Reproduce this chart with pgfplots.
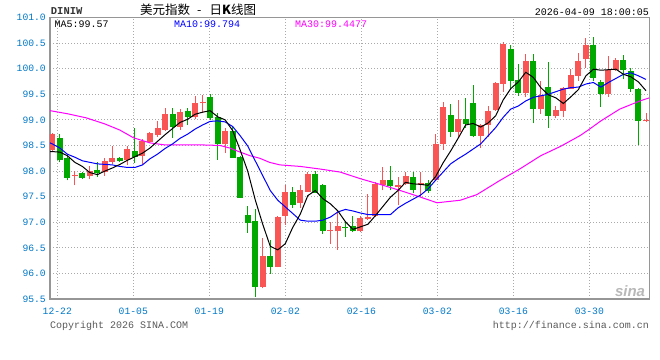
\documentclass[border=0pt]{standalone}
\usepackage{pgfplots}
\pgfplotsset{compat=1.18}
\usepackage{pgfplotstable}
\usepackage{fontspec}
\setmonofont{Liberation Mono}
\newfontfamily\cjk{Noto Sans CJK SC}
\newfontfamily\lsans{Liberation Sans}
\definecolor{upc}{RGB}{250,85,85}
\definecolor{dnc}{RGB}{0,168,0}
\definecolor{tickc}{RGB}{0,120,200}
\definecolor{gridc}{RGB}{170,170,170}
\definecolor{framec}{RGB}{150,150,150}
\definecolor{ma10c}{RGB}{0,0,255}
\definecolor{ma30c}{RGB}{255,0,255}

% rising candles (close > open)
\pgfplotstableread{
i O H L C
0 98.41 98.75 98.38 98.72
3 97.91 98.01 97.72 97.93
5 97.91 98.10 97.84 98.01
7 97.99 98.25 97.91 98.20
8 98.18 98.48 98.13 98.26
10 98.21 98.48 98.11 98.44
12 98.29 98.62 98.13 98.58
13 98.57 98.76 98.55 98.74
14 98.71 98.97 98.67 98.85
15 98.81 99.24 98.78 99.12
17 98.87 99.22 98.81 99.16
19 99.05 99.47 99.01 99.33
20 99.32 99.48 99.13 99.35
23 98.52 98.85 98.35 98.78
28 95.73 96.70 95.71 96.34
30 96.13 97.12 96.12 97.11
31 97.12 97.72 96.95 97.60
33 97.37 97.73 97.28 97.62
34 97.60 97.99 97.59 97.95
37 96.83 97.01 96.57 96.85
38 96.82 97.22 96.46 96.92
41 96.82 97.12 96.80 97.08
42 97.06 97.55 97.04 97.10
43 97.12 97.78 97.10 97.74
44 97.72 98.08 97.62 97.82
46 97.68 97.89 97.33 97.72
47 97.75 97.98 97.73 97.90
49 97.72 97.98 97.49 97.77
51 97.82 98.72 97.80 98.53
52 98.52 99.35 98.41 99.25
54 98.77 99.39 98.64 99.02
57 98.69 98.92 98.46 98.90
58 98.89 99.27 98.66 99.18
59 99.19 99.74 99.18 99.72
60 99.71 100.52 99.55 100.49
63 99.53 100.29 99.44 100.15
65 99.21 99.76 99.12 99.49
67 99.08 99.27 99.03 99.20
68 99.18 99.64 99.05 99.62
69 99.61 99.99 99.60 99.88
70 99.86 100.30 99.76 100.15
71 100.19 100.60 100.02 100.47
74 99.51 100.25 99.45 99.97
75 99.97 100.21 99.96 100.17
79 98.97 99.13 98.95 98.99
}\upc

% falling candles (close < open)
\pgfplotstableread{
i O H L C
1 98.64 98.72 98.17 98.22
2 98.26 98.30 97.82 97.87
4 97.96 97.99 97.84 97.87
6 98.03 98.17 97.88 97.97
9 98.26 98.28 98.18 98.20
11 98.40 98.85 98.15 98.28
16 99.12 99.24 98.65 98.87
18 99.18 99.24 98.90 99.05
21 99.44 99.51 99.00 99.03
22 99.05 99.14 98.22 98.52
24 98.79 98.88 98.26 98.26
25 98.28 98.30 97.47 97.47
26 97.14 97.31 96.79 96.98
27 97.02 97.26 95.54 95.73
29 96.34 96.65 95.99 96.13
32 97.60 97.68 97.28 97.33
35 97.95 98.01 97.57 97.58
36 97.72 97.74 96.77 96.82
39 96.91 97.02 96.71 96.89
40 96.92 97.13 96.80 96.82
45 97.82 98.10 97.62 97.70
48 97.88 97.99 97.57 97.62
50 97.77 97.83 97.58 97.61
53 99.09 99.31 98.67 98.77
55 99.02 99.42 98.85 98.92
56 99.33 99.68 98.66 98.68
61 100.39 100.46 99.63 99.76
62 99.78 100.10 99.47 99.53
64 100.15 100.29 98.93 99.21
66 99.64 100.14 98.85 99.08
72 100.47 100.62 99.76 99.82
73 99.74 99.78 99.25 99.51
76 100.16 100.27 99.79 99.97
77 99.95 100.02 99.55 99.60
78 99.60 99.62 98.51 98.97
}\dnc

\begin{document}
\begin{tikzpicture}
\path[use as bounding box] (0,0) rectangle (660bp,360bp);
\begin{axis}[
  at={(50bp,61bp)}, anchor=south west,
  scale only axis, width=599.3bp, height=281.5bp,
  xmin=-0.306, xmax=79.44, ymin=95.5, ymax=101,
  axis line style={draw=framec, line width=1.5bp},
  ytick={95.5,96,96.5,97,97.5,98,98.5,99,99.5,100,100.5,101},
  yticklabels={95.5,96.0,96.5,97.0,97.5,98.0,98.5,99.0,99.5,100.0,100.5,101.0},
  xtick={0.665,10.778,20.891,31.004,41.117,51.230,61.343,71.456},
  xticklabels={12-22,01-05,01-19,02-02,02-16,03-02,03-16,03-30},
  grid=major,
  major grid style={draw=gridc, line width=1bp, dash pattern=on 1bp off 2bp},
  major tick length=0pt,
  tick label style={font=\ttfamily\fontsize{9.7bp}{10bp}\selectfont, text=tickc},
  xticklabel style={anchor=base, yshift=-15.5bp, inner sep=0pt},
  yticklabel style={anchor=east, inner sep=0pt, xshift=-4bp},
  axis on top=false,
]
% wicks
\addplot[upc, line width=1bp, mark=none, quiver={u=0, v=\thisrow{H}-\thisrow{L}}] table[x=i, y=L] {\upc};
\addplot[dnc, line width=1bp, mark=none, quiver={u=0, v=\thisrow{H}-\thisrow{L}}] table[x=i, y=L] {\dnc};
% bodies
\addplot[upc, line width=6bp, mark=none, quiver={u=0, v=\thisrow{C}-\thisrow{O}}] table[x=i, y=O] {\upc};
\addplot[dnc, line width=6bp, mark=none, quiver={u=0, v=\thisrow{C}-\thisrow{O}}] table[x=i, y=O] {\dnc};
% MA30
\addplot[ma30c, line width=1bp, mark=none] coordinates {
(-0.3,99.18) (2,99.12) (4.5,99.04) (7,98.92) (9,98.80) (10.8,98.65) (13,98.55) (15,98.51)
(18,98.51) (20,98.51) (22.3,98.50) (23.6,98.45) (25,98.37) (26.3,98.30) (27.6,98.25)
(28.9,98.17) (30.3,98.12) (33,98.09) (35.6,98.04) (38.3,97.98) (41,97.85) (43.6,97.74)
(46.3,97.62) (49,97.49) (51.2,97.38) (54.3,97.43) (56.5,97.54) (59.6,97.82) (62.2,98.04)
(65,98.30) (67.6,98.48) (70.2,98.69) (71.3,98.80) (73,98.98) (75.5,99.21) (78.2,99.37) (79.44,99.43)
};
% MA10
\addplot[ma10c, line width=1bp, mark=none] coordinates {
(-0.3,98.55) (0,98.53) (1,98.45) (2,98.33) (3,98.27) (4,98.20) (5,98.17) (6,98.14) (7,98.13) (8,98.12)
(9,98.09) (10,98.07) (11,98.07) (12,98.12) (13,98.24) (14,98.33) (15,98.44) (16,98.53)
(17,98.64) (18,98.72) (19,98.82) (20,98.90) (21,98.97) (22,98.98) (23,98.96) (24,98.87)
(25,98.69) (26,98.49) (27,98.20) (28,97.91) (29,97.62) (30,97.43) (31,97.30) (32,97.17)
(33,97.04) (34,97.02) (35,97.02) (36,97.04) (37,97.10) (38,97.20) (39,97.25) (40,97.22)
(41,97.18) (42,97.15) (43,97.15) (44,97.15) (45,97.15) (46,97.28) (47,97.37) (48,97.45)
(49,97.53) (50,97.65) (51,97.82) (52,97.98) (53,98.14) (54,98.24) (55,98.33) (56,98.43)
(57,98.53) (58,98.69) (59,98.85) (60,99.05) (61,99.21) (62,99.27) (63,99.37) (64,99.44)
(65,99.47) (66,99.50) (67,99.55) (68,99.60) (69,99.63) (70,99.64) (71,99.70) (72,99.73)
(73,99.64) (74,99.73) (75,99.81) (76,99.89) (77,99.92) (78,99.86) (79,99.79)
};
% MA5
\addplot[black, line width=1bp, mark=none] coordinates {
(-0.3,98.38) (0,98.38) (1,98.37) (2,98.30) (3,98.17) (4,98.09) (5,97.97) (6,97.93) (7,98.00) (8,98.06)
(9,98.13) (10,98.21) (11,98.28) (12,98.35) (13,98.45) (14,98.58) (15,98.71) (16,98.83)
(17,98.95) (18,99.01) (19,99.11) (20,99.15) (21,99.18) (22,99.06) (23,99.00) (24,98.79)
(25,98.41) (26,98.00) (27,97.44) (28,96.96) (29,96.53) (30,96.46) (31,96.58) (32,96.90)
(33,97.16) (34,97.52) (35,97.62) (36,97.46) (37,97.36) (38,97.22) (39,97.01) (40,96.86)
(41,96.91) (42,96.96) (43,97.13) (44,97.31) (45,97.49) (46,97.62) (47,97.78) (48,97.75)
(49,97.74) (50,97.72) (51,97.89) (52,98.16) (53,98.39) (54,98.64) (55,98.90) (56,98.93)
(57,98.86) (58,98.94) (59,99.08) (60,99.39) (61,99.61) (62,99.74) (63,99.93) (64,99.83)
(65,99.63) (66,99.49) (67,99.43) (68,99.32) (69,99.45) (70,99.59) (71,99.86) (72,99.99)
(73,99.97) (74,99.98) (75,99.99) (76,99.89) (77,99.84) (78,99.74) (79,99.57)
};
\end{axis}
% header texts
\node[anchor=base west, inner sep=0pt, text=black!80, font=\ttfamily\bfseries\fontsize{10.5bp}{11bp}\selectfont] at (50.7bp,345bp) {DINIW};
\node[anchor=west, inner sep=0pt, font=\cjk\fontsize{12.5bp}{13bp}\selectfont] at (140bp,350.5bp) {美元指数\hspace{7bp}-\hspace{8bp}日\textbf{K}线图};
\node[anchor=base east, inner sep=0pt, font=\ttfamily\fontsize{10bp}{11bp}\selectfont] at (649bp,344.3bp) {2026-04-09 18:00:05};
% MA labels
\node[anchor=base west, inner sep=0pt, font=\ttfamily\fontsize{10bp}{11bp}\selectfont] at (54.3bp,332.7bp) {MA5:99.57};
\node[anchor=base west, inner sep=0pt, text=ma10c, font=\ttfamily\fontsize{10bp}{11bp}\selectfont] at (174bp,332.7bp) {MA10:99.794};
\node[anchor=base west, inner sep=0pt, text=ma30c, font=\ttfamily\fontsize{10bp}{11bp}\selectfont] at (295bp,332.7bp) {MA30:99.4477};
% watermark
\node[anchor=center, inner sep=0pt, text=black!28, font=\lsans\bfseries\itshape\fontsize{15bp}{15bp}\selectfont] at (630bp,69bp) {sina};
% footer
\node[anchor=base west, inner sep=0pt, text=black!65, font=\ttfamily\fontsize{10bp}{11bp}\selectfont] at (50bp,32bp) {Copyright 2026 SINA.COM};
\node[anchor=base east, inner sep=0pt, text=black!65, font=\ttfamily\fontsize{10bp}{11bp}\selectfont] at (649bp,32bp) {http://finance.sina.com.cn};
\end{tikzpicture}
\end{document}
